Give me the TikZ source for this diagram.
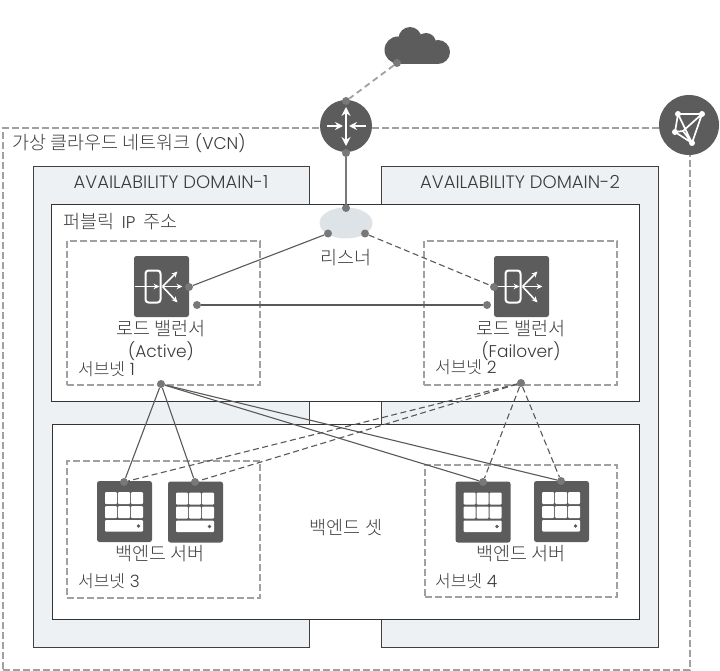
\documentclass[tikz,border=0pt]{standalone}
\usepackage{fontspec}
\setmainfont{Poppins}[UprightFont=* Light]
\newfontfamily\kofont{Noto Sans CJK KR}[UprightFont=* Light]
\newcommand{\ko}[1]{{\kofont\fontsize{18.5}{21}\selectfont #1}}
\newcommand{\kos}[1]{{\kofont\fontsize{17}{19}\selectfont #1}}
\usepackage{xcolor}
\usepackage{tikz}
\usetikzlibrary{positioning, arrows.meta, shapes.geometric}
\definecolor{icongray}{RGB}{92,92,92}
\definecolor{dashgray}{RGB}{160,160,160}
\definecolor{portgray}{RGB}{120,120,120}
\definecolor{domainfill}{RGB}{238,241,243}
\definecolor{listenerfill}{RGB}{221,227,230}
\definecolor{textgray}{RGB}{60,60,60}

\begin{document}
\begin{tikzpicture}[
    x=1pt, y=-1pt,
    >=Stealth,
    every node/.style={text=textgray, font=\fontsize{17}{19}\selectfont},
    vcnbox/.style={draw=dashgray, line width=2pt, dash pattern=on 7pt off 3pt,
                   anchor=north west, inner sep=0pt},
    adbox/.style={draw=black!75, line width=1.3pt, fill=domainfill,
                   anchor=north west, inner sep=0pt},
    tier/.style={draw=black!80, line width=1.1pt, fill=white,
                 anchor=north west, inner sep=0pt},
    subnet/.style={draw=dashgray, line width=1.9pt, dash pattern=on 7pt off 3pt,
                   anchor=north west, inner sep=0pt},
    iconbox/.style={fill=icongray, rounded corners=2.5pt, inner sep=0pt,
                    minimum width=55pt, minimum height=61pt},
    gateway/.style={circle, fill=icongray, inner sep=0pt},
    port/.style={circle, fill=portgray, inner sep=0pt, minimum size=8pt},
    lefttext/.style={anchor=west, inner sep=0pt},
    midtext/.style={inner sep=0pt},
    adtext/.style={inner sep=0pt, font=\fontsize{18}{20}\selectfont},
    link/.style={draw=black!65, line width=1.1pt},
    dlink/.style={draw=black!65, line width=1.1pt, dash pattern=on 6pt off 3.5pt},
    uplink/.style={draw=portgray, line width=1.6pt},
    duplink/.style={draw=dashgray, line width=1.8pt, dash pattern=on 6pt off 4pt},
    lbicon/.pic={
      \draw[white, line width=2pt, rounded corners=3pt] (-16,-16) rectangle (-1,16);
      \draw[white, line width=1.6pt, -{Stealth[length=6pt, width=5.5pt]}] (-27,0) -- (-2,0);
      \draw[white, line width=1.6pt, -{Stealth[length=6pt, width=5.5pt]}] (1,0) -- (21,0);
      \draw[white, line width=1.6pt, -{Stealth[length=6pt, width=5.5pt]}] (1,0) -- (16,-15);
      \draw[white, line width=1.6pt, -{Stealth[length=6pt, width=5.5pt]}] (1,0) -- (16,16);
    },
    servericon/.pic={
      \foreach \cx in {-19.5,-6.5,6.5}
        \foreach \cy in {-19.5,-5.5}
          \fill[white, rounded corners=1pt] (\cx,\cy) rectangle ++(12,12);
      \fill[white, rounded corners=1pt] (-19.5,8.5) rectangle (18.5,20);
      \fill[icongray] (14,14.5) circle (1.8pt);
    },
  ]
  \useasboundingbox (0,0) rectangle (720,671);

  % Network and domains
  \node[vcnbox, minimum width=687pt, minimum height=542pt] (vcn) at (2,127) {};
  \node[adbox, minimum width=276pt, minimum height=481pt] (ad1) at (33,166) {};
  \node[adbox, minimum width=277pt, minimum height=481pt] (ad2) at (381,166) {};
  \node[tier, minimum width=588pt, minimum height=197pt] (public) at (51,204) {};
  \node[tier, minimum width=587pt, minimum height=195pt] (backend) at (52,424) {};

  % Subnets
  \node[subnet, minimum width=193pt, minimum height=144pt] (sub1) at (66,240) {};
  \node[subnet, minimum width=193pt, minimum height=144pt] (sub2) at (423,240) {};
  \node[subnet, minimum width=193pt, minimum height=137pt] (sub3) at (66,460) {};
  \node[subnet, minimum width=192pt, minimum height=132pt] (sub4) at (424,464) {};

  % Cloud
  \fill[icongray] (398,50) circle (13.5pt) (410,38.5) circle (11.5pt)
    (426,43) circle (10pt) (438,52) circle (12pt);
  \fill[icongray] (398,46) rectangle (438,64);

  % Router and network icon
  \node[gateway, minimum size=52pt] (router) at (346,126) {};
  \draw[white, line width=2.2pt, {Stealth[length=9pt, width=9pt]}-{Stealth[length=9pt, width=9pt]}]
    (346,107) -- (346,146);
  \draw[white, line width=1.8pt, -{Stealth[length=8pt, width=8pt]}] (327,126) -- (343,126);
  \draw[white, line width=1.8pt, -{Stealth[length=8pt, width=8pt]}] (366,126) -- (349,126);

  \node[gateway, minimum size=60pt] (mesh) at (689,125) {};
  \draw[white, line width=1.7pt, line join=round]
    (678,114) -- (702,114) -- (692,143) -- (675,132) -- cycle
    (678,114) -- (692,143) (702,114) -- (683,131) -- (692,143) (675,132) -- (683,131);
  \foreach \mx/\my in {678/114, 702/114, 675/132, 692/143}
    \fill[white] (\mx,\my) circle (3pt);

  % Listener and icons
  \node[ellipse, fill=listenerfill, minimum width=53pt, minimum height=31pt,
        inner sep=0pt] (listener) at (346,223) {};
  \node[iconbox] (lb1) at (161.5,286.5) {};
  \node[iconbox] (lb2) at (521.5,286.5) {};
  \pic at (lb1) {lbicon};
  \pic at (lb2) {lbicon};
  \node[iconbox] (srv1) at (124.5,511.5) {};
  \node[iconbox] (srv2) at (195.5,512) {};
  \node[iconbox] (srv3) at (483,512) {};
  \node[iconbox] (srv4) at (561.5,511.5) {};
  \foreach \s in {srv1,srv2,srv3,srv4}
    \pic at (\s) {servericon};

  % Ports
  \node[port] (cloudp) at (397,63) {};
  \node[port] (routert) at (346,101) {};
  \node[port] (routerb) at (346,153) {};
  \node[port] (listt) at (346,208) {};
  \node[port] (listl) at (328,233.5) {};
  \node[port] (listr) at (365,233.5) {};
  \node[port] (lb1a) at (189,287) {};
  \node[port] (lb1b) at (197,305) {};
  \node[port] (lb2a) at (494,287) {};
  \node[port] (lb2b) at (487,305) {};
  \node[port] (sub1p) at (161,384) {};
  \node[port] (sub2p) at (521,383) {};
  \node[port] (srv1p) at (124,482) {};
  \node[port] (srv2p) at (195,482) {};
  \node[port] (srv3p) at (483,482) {};
  \node[port] (srv4p) at (561,481) {};

  % Connectors
  \draw[duplink] (cloudp) -- (routert);
  \draw[uplink] (routerb) -- (listt);
  \draw[link] (listl) -- (lb1a);
  \draw[dlink] (listr) -- (lb2a);
  \draw[link] (lb1b) -- (lb2b);
  \foreach \s in {srv1p,srv2p,srv3p,srv4p} {
    \draw[link] (sub1p) -- (\s);
    \draw[dlink] (sub2p) -- (\s);
  }

  % Labels
  \node[lefttext] (vcnlabel) at (12,143) {\ko{가상 클라우드 네트워크} (VCN)};
  \node[adtext] (ad1label) at (171,182) {AVAILABILITY DOMAIN-1};
  \node[adtext] (ad2label) at (520,182) {AVAILABILITY DOMAIN-2};
  \node[lefttext] (publiclabel) at (63,222) {\ko{퍼블릭}\hspace{3pt} IP \hspace{3pt}\ko{주소}};
  \node[midtext] (listlabel) at (346,258) {\ko{리스너}};
  \node[midtext] (lb1label) at (161,329) {\ko{로드 밸런서}};
  \node[midtext, below=22pt of lb1label.center, anchor=center] (lb1state) {(Active)};
  \node[midtext] (lb2label) at (521,329) {\ko{로드 밸런서}};
  \node[midtext, below=22pt of lb2label.center, anchor=center] (lb2state) {(Failover)};
  \node[lefttext] (sub1label) at (78,369) {\kos{서브넷} 1};
  \node[lefttext] (sub2label) at (435,367) {\kos{서브넷} 2};
  \node[midtext] (srv12label) at (160,554) {\ko{백엔드 서버}};
  \node[midtext] (srv34label) at (521,554) {\ko{백엔드 서버}};
  \node[midtext] (setlabel) at (346,528) {\ko{백엔드 셋}};
  \node[lefttext] (sub3label) at (78,581) {\kos{서브넷} 3};
  \node[lefttext] (sub4label) at (435,581) {\kos{서브넷} 4};

\end{tikzpicture}
\end{document}
